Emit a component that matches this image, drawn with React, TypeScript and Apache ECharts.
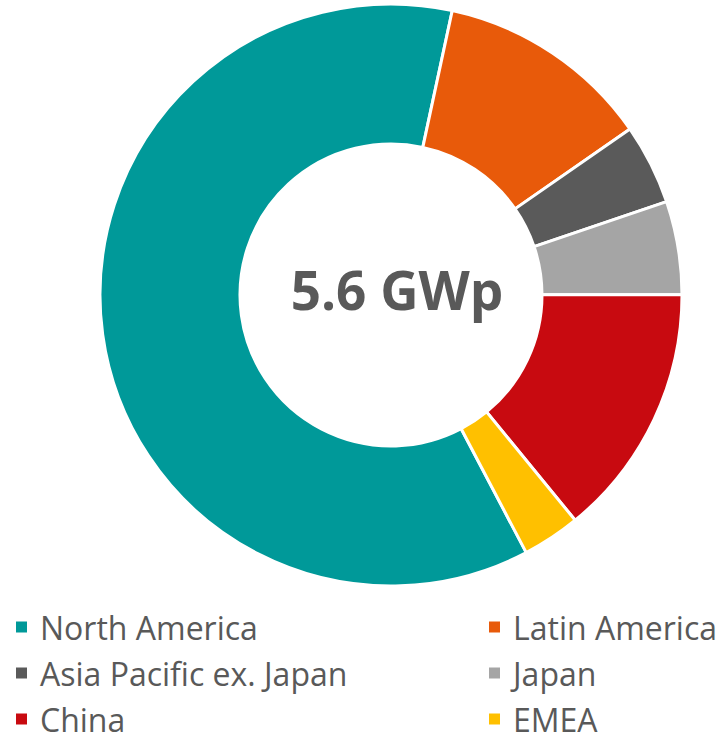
import React, { useEffect, useRef } from "react";
import * as echarts from "echarts";

const categories = ["North America", "Latin America", "Asia Pacific ex. Japan", "Japan", "China", "EMEA"];
const values = [3.42, 0.67, 0.25, 0.29, 0.79, 0.18];
const colors = ["#009999", "#E85A0A", "#5A5A5A", "#A5A5A5", "#C80A10", "#FFC000"];
const centerLabel = "5.6 GWp";
const leftLegend = ["North America", "Asia Pacific ex. Japan", "China"];
const rightLegend = ["Latin America", "Japan", "EMEA"];

export default function App() {
  const ref = useRef<HTMLDivElement>(null);
  useEffect(() => {
    const chart = echarts.init(ref.current!, null, { renderer: "svg" });
    const legendText = {
      color: "#595959",
      fontSize: 32,
      fontFamily: "Open Sans",
      lineHeight: 32,
      padding: [0, 0, 0, 7],
    };
    chart.setOption({
      animation: false,
      legend: [
        {
          orient: "vertical",
          left: 14,
          top: 611,
          data: leftLegend,
          icon: "rect",
          itemWidth: 13,
          itemHeight: 13,
          itemGap: 14,
          padding: 0,
          textStyle: legendText,
          selectedMode: false,
        },
        {
          orient: "vertical",
          left: 487,
          top: 611,
          data: rightLegend,
          icon: "rect",
          itemWidth: 13,
          itemHeight: 13,
          itemGap: 14,
          padding: 0,
          textStyle: legendText,
          selectedMode: false,
        },
      ],
      graphic: [
        {
          type: "text",
          x: 397,
          y: 289,
          style: {
            text: centerLabel,
            fill: "#595959",
            fontSize: 53,
            fontWeight: "bold",
            fontFamily: "Open Sans",
            textAlign: "center",
            textVerticalAlign: "middle",
          },
        },
      ],
      series: [
        {
          type: "pie",
          center: [391, 295],
          radius: [151, 291],
          startAngle: 297.7,
          clockwise: true,
          label: { show: false },
          labelLine: { show: false },
          itemStyle: { borderColor: "#ffffff", borderWidth: 3 },
          emphasis: { disabled: true },
          data: categories.map((name, i) => ({
            name,
            value: values[i],
            itemStyle: { color: colors[i] },
          })),
        },
      ],
    });
    return () => chart.dispose();
  }, []);
  return (
    <div
      ref={ref}
      style={{ position: "absolute", left: 0, top: 0, width: 725, height: 736 }}
    />
  );
}
